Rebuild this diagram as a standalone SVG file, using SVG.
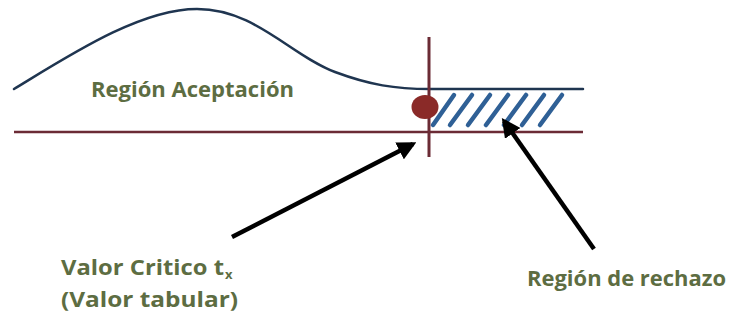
<svg xmlns="http://www.w3.org/2000/svg" width="731" height="321" viewBox="0 0 731 321">
<style>
.lbl{font-family:"Open Sans","Noto Sans",sans-serif;font-weight:700;font-size:21px;fill:#5d6d42}
.sub{font-size:13px}
.curve{fill:none;stroke:#1f3550;stroke-width:2.5;stroke-linecap:round}
.red{stroke:#6b2b35;fill:none}
.hatch{stroke:#2f6096;stroke-width:4.5;stroke-linecap:round}
.arrow{stroke:#000;stroke-width:4.5;fill:none;marker-end:url(#ah)}
</style>
<defs>
<marker id="ah" viewBox="0 0 10 10" refX="8" refY="5" markerWidth="4.2" markerHeight="4.2" orient="auto" markerUnits="strokeWidth">
<path d="M0,0 L10,5 L0,10 z" fill="#000"/>
</marker>
</defs>
<rect width="731" height="321" fill="#fff"/>
<g id="curve">
<path class="curve" d="M14,89 C70,55 140,9 197,9 C255,9 290,55 335,72 C370,85 395,89 430,89 L583,89"/>
</g>
<g id="axis">
<line class="red" x1="14" y1="132" x2="583" y2="132" stroke-width="2.5"/>
</g>
<g id="rejection-hatch">
<line class="hatch" x1="433" y1="125" x2="454" y2="95"/>
<line class="hatch" x1="450" y1="125" x2="472" y2="95"/>
<line class="hatch" x1="468" y1="125" x2="490" y2="95"/>
<line class="hatch" x1="486" y1="125" x2="508" y2="95"/>
<line class="hatch" x1="504" y1="125" x2="526" y2="95"/>
<line class="hatch" x1="522" y1="125" x2="544" y2="95"/>
<line class="hatch" x1="540" y1="125" x2="562" y2="95"/>
</g>
<g id="critical-line">
<line class="red" x1="429" y1="37" x2="429" y2="157" stroke-width="3"/>
</g>
<g id="critical-point">
<ellipse cx="425" cy="107" rx="13.5" ry="12" fill="#8a2a28"/>
</g>
<g id="label-aceptacion">
<text class="lbl" x="91" y="97" textLength="203" lengthAdjust="spacingAndGlyphs">Región Aceptación</text>
</g>
<g id="label-critico">
<text class="lbl" x="61" y="275" textLength="163" lengthAdjust="spacingAndGlyphs">Valor Critico t</text>
<text class="lbl sub" x="225" y="279">x</text>
<text class="lbl" x="61" y="307" textLength="177" lengthAdjust="spacingAndGlyphs">(Valor tabular)</text>
</g>
<g id="label-rechazo">
<text class="lbl" x="527" y="286" textLength="199" lengthAdjust="spacingAndGlyphs">Región de rechazo</text>
</g>
<g id="connectors">
<line class="arrow" x1="232" y1="237" x2="413" y2="144"/>
<line class="arrow" x1="594" y1="249" x2="504" y2="121"/>
</g>
</svg>
